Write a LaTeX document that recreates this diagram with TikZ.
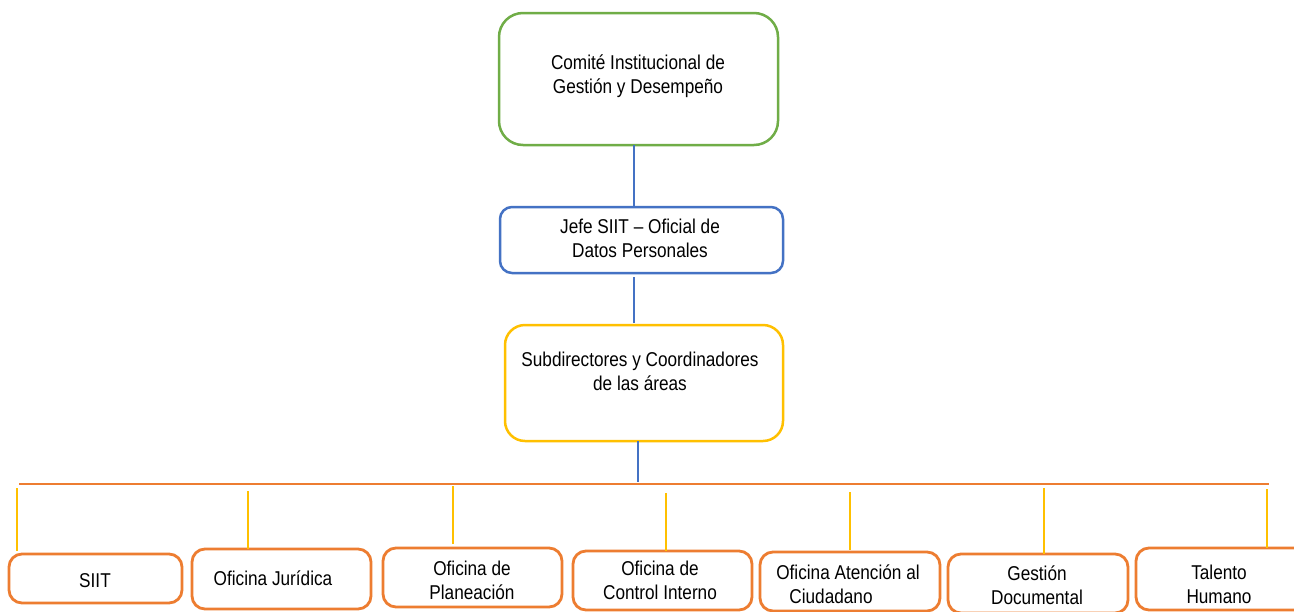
\documentclass[tikz,border=0pt]{standalone}
\usepackage{fontspec}
\setmainfont{Liberation Sans}[FakeStretch=0.86]
\definecolor{cgreen}{HTML}{70AD47}
\definecolor{cblue}{HTML}{4472C4}
\definecolor{cyellow}{HTML}{FFC000}
\definecolor{corange}{HTML}{ED7D31}
\begin{document}
\begin{tikzpicture}[x=1pt,y=-1pt,
  box/.style={draw, fill=white, line width=2.5pt, inner sep=0pt, outer sep=0pt},
  gbox/.style={box, draw=cgreen, rounded corners=24pt},
  bbox/.style={box, draw=cblue, rounded corners=12pt},
  ybox/.style={box, draw=cyellow, rounded corners=20pt},
  obox/.style={box, draw=corange, line width=2.8pt, rounded corners=13pt},
  txt/.style={align=center, inner sep=0pt, font=\fontsize{20}{24}\selectfont},
  bl/.style={draw=cblue, line width=1.2pt},
  busline/.style={draw=corange, line width=1.4pt},
  drop/.style={draw=cyellow, line width=1.3pt}]
\useasboundingbox (0,0) rectangle (1294,611);
\fill[white] (0,0) rectangle (1294,611);

% upper boxes
\node[gbox, minimum width=279pt, minimum height=132pt] (comite) at (638.5,79) {};
\node[txt] (comiteT) at (638,76) {Comité Institucional de\\ Gestión y Desempeño};
\node[bbox, minimum width=283pt, minimum height=66pt] (jefe) at (641.5,240) {};
\node[txt] (jefeT) at (640,238) {Jefe SIIT – Oficial de\\Datos Personales};
\node[ybox, minimum width=278pt, minimum height=116pt] (subdir) at (644,383) {};
\node[txt] (subdirT) at (640,371) {Subdirectores y Coordinadores\\de las áreas};

% lower boxes
\node[obox, minimum width=173pt, minimum height=49pt] (siit) at (95.5,578.5) {};
\node[txt] (siitT) at (95,581) {SIIT};
\node[obox, minimum width=179pt, minimum height=60pt] (jur) at (281.5,579) {};
\node[txt] (jurT) at (273,578) {Oficina Jurídica};
\node[obox, minimum width=179pt, minimum height=59pt] (plan) at (472.5,577.5) {};
\node[txt] (planT) at (472,580) {Oficina de\\Planeación};
\node[obox, minimum width=179pt, minimum height=59pt] (ctrl) at (662.5,580.5) {};
\node[txt] (ctrlT) at (660,580) {Oficina de\\Control Interno};
\node[obox, minimum width=180pt, minimum height=59pt] (aten) at (850,581.5) {};
\node[txt] (atenT) at (848,584) {Oficina Atención al\\Ciudadano\hspace*{34pt}};
\node[obox, minimum width=180pt, minimum height=59pt] (gest) at (1038,583.5) {};
\node[txt] (gestT) at (1037,585) {Gestión\\Documental};
\node[obox, minimum width=180pt, minimum height=62pt] (tal) at (1226,579) {};
\node[txt] (talT) at (1219,584) {Talento\\Humano};

% vertical connectors
\draw[bl] ([xshift=-4.5pt]comite.south) -- ([xshift=-4.5pt]comite.south |- jefe.north);
\draw[bl] ([xshift=-7.5pt,yshift=-4pt]jefe.south) -- ([xshift=-7.5pt,yshift=2pt]jefe.south |- subdir.north);
\coordinate (busL) at (19,484);
\coordinate (busR) at (1269,484);
\draw[bl] ([xshift=-6pt]subdir.south) -- ([xshift=-6pt,yshift=2pt]subdir.south |- busL);
\draw[busline] (busL) -- (busR);

% drops
\coordinate (d1) at (17,488);
\coordinate (d2) at (248,491);
\coordinate (d3) at (453,486);
\coordinate (d4) at (666,493);
\coordinate (d5) at (850,492);
\coordinate (d6) at (1044,488);
\coordinate (d7) at (1267,489);
\draw[drop] (d1) -- ([yshift=3pt]d1 |- siit.north);
\draw[drop] (d2) -- (d2 |- jur.north);
\draw[drop] (d3) -- ([yshift=4pt]d3 |- plan.north);
\draw[drop] (d4) -- (d4 |- ctrl.north);
\draw[drop] (d5) -- ([yshift=2pt]d5 |- aten.north);
\draw[drop] (d6) -- (d6 |- gest.north);
\draw[drop] (d7) -- (d7 |- tal.north);
\end{tikzpicture}
\end{document}
